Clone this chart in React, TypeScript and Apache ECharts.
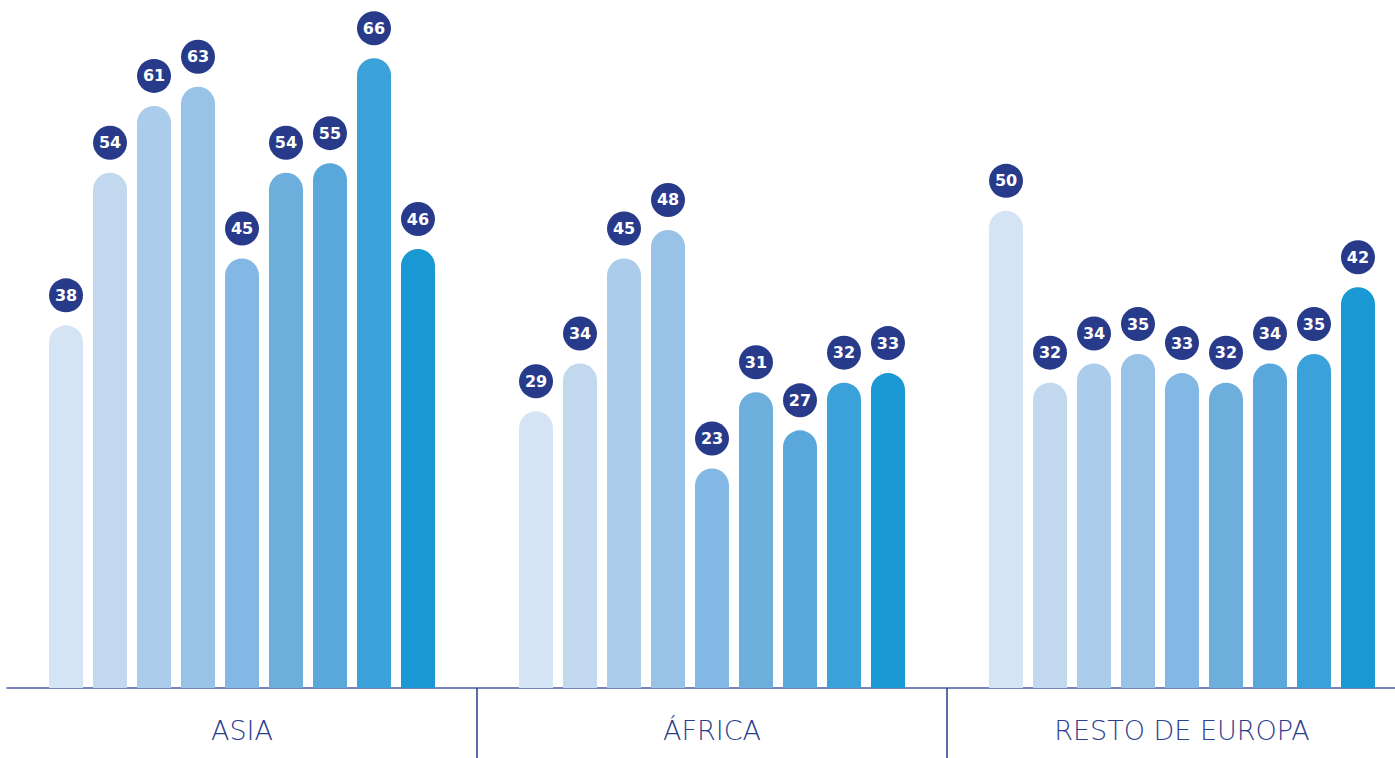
import React, { useEffect, useRef } from "react";
import * as echarts from "echarts";

const categories = ["ASIA", "ÁFRICA", "RESTO DE EUROPA"];
const seriesValues: number[][] = [
  [38, 29, 50],
  [54, 34, 32],
  [61, 45, 34],
  [63, 48, 35],
  [45, 23, 33],
  [54, 31, 32],
  [55, 27, 34],
  [66, 32, 35],
  [46, 33, 42],
];
const seriesColors = [
  "#d4e4f4",
  "#c1d8ef",
  "#abcdeb",
  "#98c3e7",
  "#84b8e4",
  "#6daedd",
  "#5aa7dc",
  "#3ba1d9",
  "#1a98d3",
];

const NAVY = "#283b8b";

export default function App() {
  const ref = useRef<HTMLDivElement>(null);
  useEffect(() => {
    if (!ref.current) return;
    const chart = echarts.init(ref.current, undefined, { renderer: "svg" });
    chart.setOption({
      animation: false,
      grid: {
        left: 7,
        width: 1410,
        top: 20,
        bottom: 70,
        containLabel: false,
        outerBoundsMode: "none",
      },
      xAxis: {
        type: "category",
        data: categories,
        axisLine: { show: true, lineStyle: { color: "#4a5ca6", width: 1.5 } },
        axisTick: {
          show: true,
          length: 70,
          interval: (index: number) => index > 0,
          lineStyle: { color: NAVY, width: 1.5 },
        },
        axisLabel: {
          color: "#2e3f8f",
          fontSize: 27,
          fontWeight: 200,
          fontFamily: "'DejaVu Sans', sans-serif",
          margin: 29,
        },
      },
      yAxis: {
        type: "value",
        min: 0,
        max: 70,
        show: false,
        splitLine: { show: false },
      },
      series: seriesValues.map((vals, i) => ({
        type: "bar",
        name: "s" + i,
        data: vals,
        barWidth: 34,
        barGap: "29.4%",
        itemStyle: { color: seriesColors[i], borderRadius: [17, 17, 0, 0] },
        label: {
          show: true,
          position: "top",
          distance: 30,
          color: "#ffffff",
          fontWeight: "bold",
          fontSize: 16,
          fontFamily: "'DejaVu Sans', sans-serif",
          backgroundColor: NAVY,
          borderRadius: 17,
          width: 34,
          height: 34,
          lineHeight: 34,
          align: "center",
          verticalAlign: "middle",
        },
      })),
    });
    return () => chart.dispose();
  }, []);
  return (
    <div
      ref={ref}
      style={{ position: "absolute", left: 0, top: 0, width: 1395, height: 758 }}
    />
  );
}
